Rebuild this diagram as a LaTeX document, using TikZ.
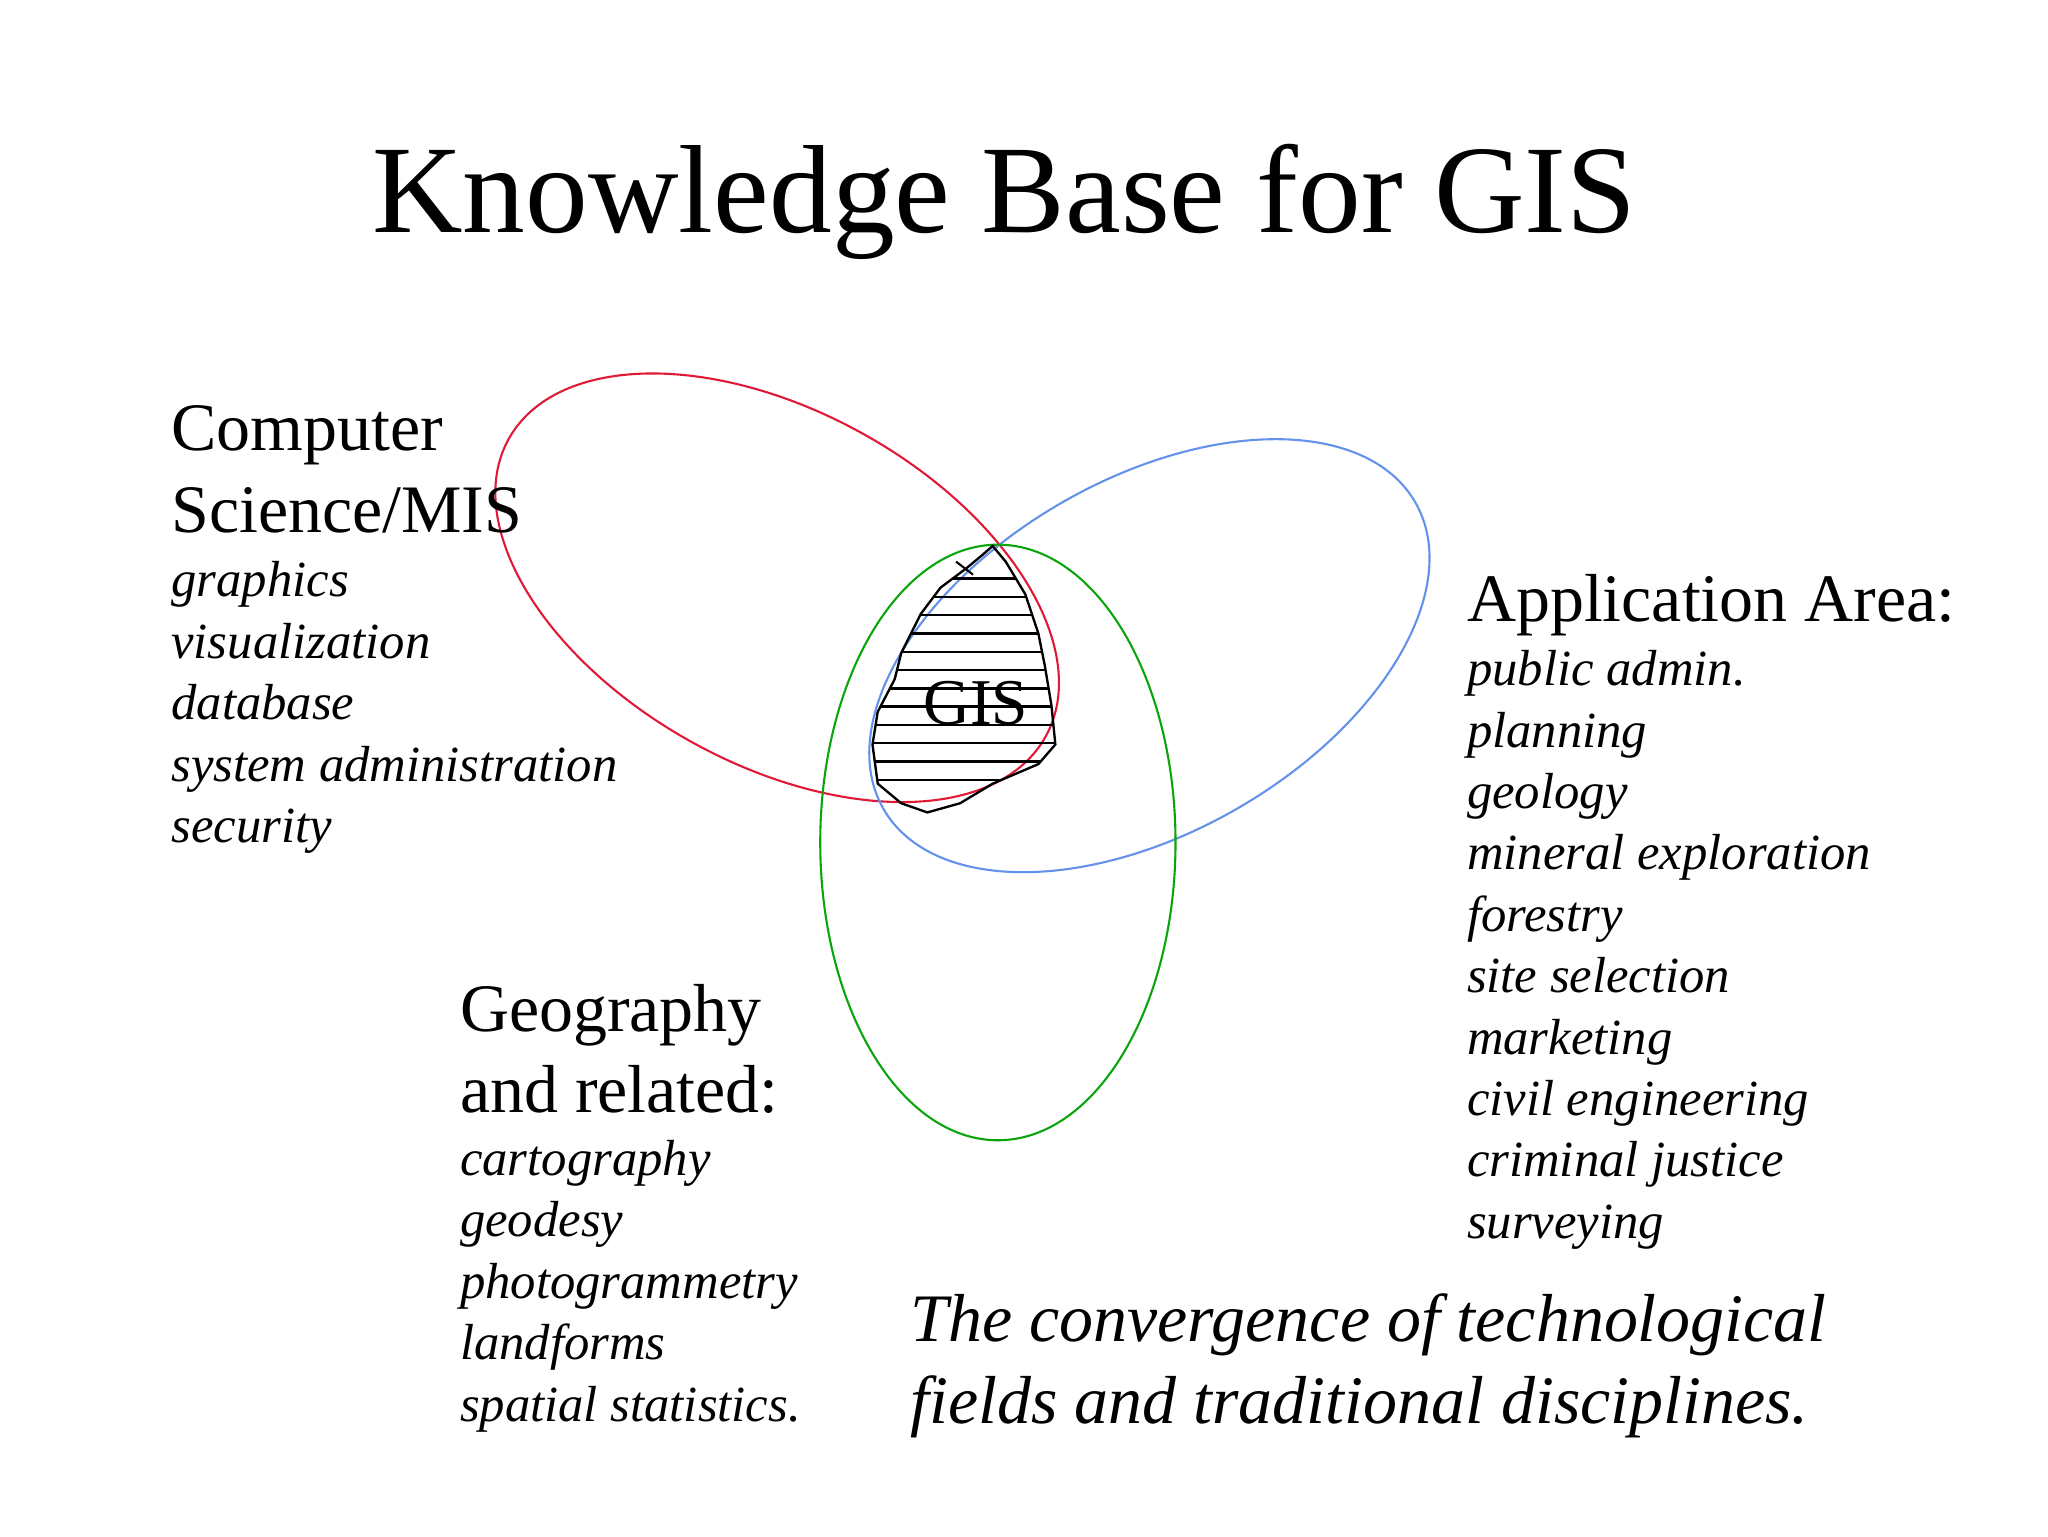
\documentclass[tikz,border=0pt]{standalone}
\usepackage{fontspec}
\setmainfont{Liberation Serif}
\definecolor{cred}{RGB}{225,25,55}
\definecolor{cblue}{RGB}{100,145,235}
\definecolor{cgreen}{RGB}{10,165,10}
\begin{document}
\begin{tikzpicture}[x=1pt,y=-1pt,
  head/.style={anchor=base west,inner sep=0pt,font=\fontsize{52}{56}\selectfont},
  item/.style={anchor=base west,inner sep=0pt,font=\fontsize{38.8}{42}\selectfont\itshape},
  big/.style={anchor=base west,inner sep=0pt,font=\fontsize{52}{56}\selectfont\itshape},
  ring/.style={line width=1.6pt}]
\useasboundingbox (0,0) rectangle (1568,1176);
\fill[white] (0,0) rectangle (1568,1176);
\node[anchor=base,inner sep=0pt,font=\fontsize{96}{100}\selectfont] (title) at (769,178) {Knowledge Base for GIS};
% ellipses
\coordinate (cr) at (595,450);
\coordinate (cb) at (880,502);
\coordinate (cg) at (764,645);
\draw[ring,cred,rotate around={-29:(cr)}] (cr) ellipse (235pt and 135pt);
\draw[ring,cblue,rotate around={30:(cb)}] (cb) ellipse (235pt and 135pt);
\draw[ring,cgreen] (cg) ellipse (136pt and 228pt);
% GIS blob
\def\blob{(760,418) -- (770,430) -- (785,455) -- (795,485) -- (800,510) -- (805,540) -- (808,570) -- (795,585) -- (760,600) -- (735,615) -- (710,622) -- (690,615) -- (672,600) -- (668,570) -- (672,545) -- (685,520) -- (690,500) -- (705,470) -- (720,450) -- (740,435) -- (752,425) -- cycle}
\begin{scope}
\clip \blob;
\foreach \yy in {443,457,...,605} \draw[line width=1.8pt] (660,\yy) -- (815,\yy);
\end{scope}
\draw[line width=1.8pt] \blob;
\draw[line width=1.6pt] (732,430) -- (745,440);
\node[inner sep=0pt,font=\fontsize{50}{54}\selectfont] (gis) at (747,538) {GIS};
% left block
\node[head] (cs1) at (131,345) {Computer};
\node[head] (cs2) at (131,408) {Science/MIS};
\node[item] (c1) at (131,457) {graphics};
\node[item] (c2) at (131,504) {visualization};
\node[item] (c3) at (131,551) {database};
\node[item] (c4) at (131,598) {system administration};
\node[item] (c5) at (131,645) {security};
% right block
\node[head] (aa) at (1123,476) {Application Area:};
\foreach \t [count=\i from 0] in {public admin.,planning,geology,mineral exploration,forestry,site selection,marketing,civil engineering,criminal justice,surveying}
  \node[item] (a\i) at (1123,525+47*\i) {\t};
% geography block
\node[head] (g1) at (352,790) {Geography};
\node[head] (g2) at (352,852) {and related:};
\foreach \t [count=\i from 0] in {cartography,geodesy,photogrammetry,landforms,spatial statistics.}
  \node[item] (gi\i) at (352,900+47*\i) {\t};
% bottom
\node[big] (b1) at (697,1027) {The convergence of technological};
\node[big] (b2) at (697,1090) {fields and traditional disciplines.};
\end{tikzpicture}
\end{document}
